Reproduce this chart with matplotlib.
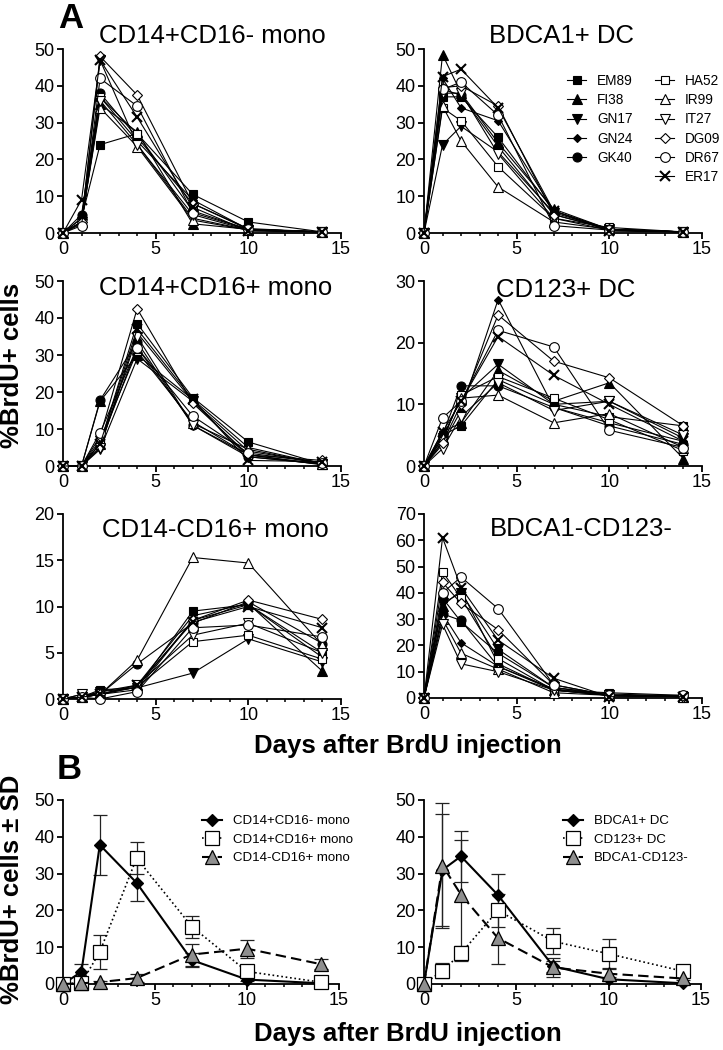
import matplotlib
matplotlib.use("Agg")
import matplotlib.pyplot as plt
from matplotlib.ticker import MultipleLocator
import numpy as np

plt.rcParams['font.family'] = ['Liberation Sans', 'DejaVu Sans']

days = [0, 1, 2, 4, 7, 10, 14]
donors = ["EM89", "FI38", "GN17", "GN24", "GK40", "HA52", "IR99", "IT27", "DG09", "DR67", "ER17"]

# Panel A data: rows follow donor order, columns follow days
cd14p_cd16m = [
    [0, 4, 24, 27, 10.5, 3, 0.3],
    [0, 3, 35, 27.5, 2.5, 1, 0.3],
    [0, 3, 47, 24, 4, 0.8, 0.3],
    [0, 4, 37, 25, 9, 1, 0.3],
    [0, 5, 38, 26, 8, 1.2, 0.3],
    [0, 3, 37, 27, 6, 1, 0.3],
    [0, 3, 34, 23.5, 3.5, 0.8, 0.3],
    [0, 2.5, 36, 24, 5, 0.8, 0.3],
    [0, 3, 48, 37.5, 8, 1, 0.3],
    [0, 2, 42, 34.5, 5.5, 1, 0.3],
    [0, 9, 47, 31.5, 7, 0.5, 0.3],
]
bdca1_dc = [
    [0, 37, 37, 26, 6, 1, 0.3],
    [0, 48.5, 38, 24.5, 6.5, 1, 0.3],
    [0, 24, 29, 22, 5.5, 1, 0.3],
    [0, 42, 34, 30.5, 6, 1, 0.3],
    [0, 39, 37.5, 23.5, 5, 1, 0.3],
    [0, 34, 30.5, 18, 4, 1.5, 0.3],
    [0, 34.5, 25, 12.5, 3, 1, 0.3],
    [0, 38, 38, 21.5, 4, 0.8, 0.3],
    [0, 39.5, 40, 34.5, 5, 1, 0.3],
    [0, 39, 41, 32, 2, 0.8, 0.3],
    [0, 42.5, 44.5, 34, 6, 0.5, 0.3],
]
cd14p_cd16p = [
    [0, 0, 6, 38.5, 18.5, 6.5, 0.5],
    [0, 0, 17.5, 30, 18, 5, 0.5],
    [0, 0, 4.5, 29, 17.5, 2.5, 0.5],
    [0, 0, 5, 36, 17.5, 4, 0.8],
    [0, 0, 17.8, 33.5, 11, 2.5, 0.5],
    [0, 0, 7, 31, 12, 3, 0.3],
    [0, 0, 6, 32, 11.5, 4.5, 0.5],
    [0, 0, 5, 35, 11, 3, 0.5],
    [0, 0, 8, 42.5, 17, 3, 1.5],
    [0, 0, 9, 32, 13.5, 3.5, 0.8],
    [0, 0, 6, 37, 18, 1.5, 1.2],
]
cd123_dc = [
    [0, 5, 6.5, 14, 10, 8, 6.5],
    [0, 5.5, 7, 15.5, 10.5, 13.5, 1.2],
    [0, 4.5, 11, 16.5, 10, 10.5, 4.5],
    [0, 3.5, 9, 27, 9.5, 7, 4],
    [0, 5, 13, 13, 9.5, 6.5, 3.5],
    [0, 4, 11.5, 14.5, 11, 7.5, 2.5],
    [0, 4.5, 11, 11.5, 7, 8.5, 3],
    [0, 2.8, 8, 13.5, 9, 10.5, 5],
    [0, 3.8, 10, 24.5, 17, 14.3, 6.5],
    [0, 7.8, 10.5, 22, 19.3, 5.8, 3],
    [0, 5.5, 10.5, 21, 14.7, 10, 4],
]
cd14m_cd16p = [
    [0, 0.2, 1, 1.2, 9.5, 10.2, 5],
    [0, 0.2, 0.8, 1.5, 9, 10.3, 3],
    [0, 0.2, 0.8, 1.2, 2.8, 6.5, 4],
    [0, 0.2, 0.5, 1.3, 8.5, 10.2, 4.5],
    [0, 0.2, 0.5, 3.8, 8.2, 10.5, 6],
    [0, 0.5, 0.5, 1.3, 6.2, 6.9, 4.3],
    [0, 0.2, 0.5, 4.2, 15.3, 14.7, 5.8],
    [0, 0.5, 0.5, 1.5, 6.9, 8.2, 5],
    [0, 0.2, 0.5, 1.0, 8.5, 10.7, 8.6],
    [0, 0.2, 0, 0.8, 7.7, 8.0, 6.7],
    [0, 0.2, 0.5, 1.5, 8.3, 10.0, 7.7],
]
bdca1m_cd123m = [
    [0, 38, 29, 17, 4, 1.5, 0.8],
    [0, 35, 41, 13, 3, 1, 0.5],
    [0, 36, 40, 18.5, 4, 1, 0.5],
    [0, 32, 21, 12, 3, 1, 0.5],
    [0, 32, 29.5, 12, 3.5, 1, 0.5],
    [0, 48, 38, 15, 3, 2, 1],
    [0, 30, 17, 11, 2, 1, 0.5],
    [0, 28, 13, 10, 3, 1, 0.5],
    [0, 44, 36, 26, 5, 1, 0.5],
    [0, 40, 46, 34, 5, 1, 1],
    [0, 61, 42, 22, 7.5, 0.5, 0.5],
]

# Panel B: means and SDs
mono_labels = ["CD14+CD16- mono", "CD14+CD16+ mono", "CD14-CD16+ mono"]
mono_mean = [
    [0, 3.3, 37.8, 27.5, 6.5, 1.2, 0.2],
    [0, 0.3, 8.7, 34.2, 15.6, 3.4, 0.5],
    [0, 0.2, 0.5, 1.6, 8.0, 9.6, 5.4],
]
mono_sd = [
    [0, 2.2, 8.2, 5.0, 2.0, 0.5, 0.1],
    [0, 0.2, 4.6, 4.4, 3.0, 1.5, 0.3],
    [0, 0.1, 0.3, 1.0, 3.0, 2.4, 1.4],
]
dc_labels = ["BDCA1+ DC", "CD123+ DC", "BDCA1-CD123-"]
dc_mean = [
    [0, 31.0, 34.7, 24.2, 4.8, 1.3, 0.2],
    [0, 3.6, 8.3, 20.0, 11.6, 8.2, 3.5],
    [0, 32.2, 24.3, 12.5, 4.5, 2.8, 1.5],
]
dc_sd = [
    [0, 15.3, 6.9, 5.8, 1.5, 0.5, 0.1],
    [0, 2.0, 2.0, 4.5, 3.5, 4.0, 1.6],
    [0, 17.0, 14.8, 7.0, 2.5, 1.5, 0.5],
]

W, H = 723, 1050
fig = plt.figure(figsize=(W / 100, H / 100), dpi=100)


def px_axes(x0, x1, ytop, ybot):
    return fig.add_axes([x0 / W, 1 - ybot / H, (x1 - x0) / W, (ybot - ytop) / H])


def style(ax, ymax, ystep):
    ax.set_xlim(0, 15)
    ax.set_ylim(0, ymax)
    for s in ["top", "right"]:
        ax.spines[s].set_visible(False)
    for s in ["left", "bottom"]:
        ax.spines[s].set_linewidth(1.3)
    ax.xaxis.set_major_locator(MultipleLocator(5))
    ax.xaxis.set_minor_locator(MultipleLocator(1))
    ax.yaxis.set_major_locator(MultipleLocator(ystep))
    ax.tick_params(axis="both", which="major", direction="out", length=4.5, width=1.3,
                   labelsize=13, pad=1.5)
    ax.tick_params(axis="x", which="minor", direction="out", length=2.5, width=1.1)
    ax.tick_params(axis="y", which="minor", length=0)
    ax.patch.set_alpha(0)


mstyle = [
    dict(marker="s", mfc="black", ms=6),
    dict(marker="^", mfc="black", ms=6.5),
    dict(marker="v", mfc="black", ms=6.5),
    dict(marker="D", mfc="black", ms=4.5),
    dict(marker="o", mfc="black", ms=6.5),
    dict(marker="s", mfc="white", ms=6),
    dict(marker="^", mfc="white", ms=6.5),
    dict(marker="v", mfc="white", ms=6.5),
    dict(marker="D", mfc="white", ms=5.5),
    dict(marker="o", mfc="white", ms=7),
    dict(marker="x", mfc="black", ms=6.5),
]


def draw_panel(ax, data, title, tx, ty):
    handles = []
    for i, name in enumerate(donors):
        st = dict(mstyle[i])
        mew = 1.5 if st["marker"] == "x" else 0.8
        h, = ax.plot(days, data[i], color="black", lw=0.8, mec="black", mew=mew,
                     clip_on=False, zorder=3, label=name, **st)
        handles.append(h)
    ax.text(tx, ty, title, transform=ax.transAxes, ha="center", va="baseline",
            fontsize=18.5)
    return handles


a1 = px_axes(63, 341, 49, 233)
a2 = px_axes(424, 702, 49, 233)
a3 = px_axes(63, 341, 281, 466)
a4 = px_axes(424, 702, 281, 466)
a5 = px_axes(63, 341, 514, 699)
a6 = px_axes(424, 702, 514, 698)

style(a1, 50, 10); style(a2, 50, 10); style(a3, 50, 10)
style(a4, 30, 10); style(a5, 20, 5); style(a6, 70, 10)

draw_panel(a1, cd14p_cd16m, "CD14+CD16- mono", 0.536, 1.03)
hs = draw_panel(a2, bdca1_dc, "BDCA1+ DC", 0.496, 1.03)
draw_panel(a3, cd14p_cd16p, "CD14+CD16+ mono", 0.55, 0.922)
draw_panel(a4, cd123_dc, "CD123+ DC", 0.511, 0.914)
draw_panel(a5, cd14m_cd16p, "CD14-CD16+ mono", 0.547, 0.876)
draw_panel(a6, bdca1m_cd123m, "BDCA1-CD123-", 0.565, 0.881)

leg_kw = dict(frameon=False, fontsize=9.8, handlelength=1.4, handletextpad=0.8,
              labelspacing=0.38, borderpad=0, borderaxespad=0, loc="upper left",
              bbox_transform=fig.transFigure, numpoints=1)
l1 = a2.legend(hs[:5], donors[:5], bbox_to_anchor=(567 / W, 1 - 74 / H), **leg_kw)
a2.add_artist(l1)
a2.legend(hs[5:], donors[5:], bbox_to_anchor=(655 / W, 1 - 74 / H), **leg_kw)

# Panel B
b1 = px_axes(63, 339, 800, 984)
b2 = px_axes(424, 701, 800, 984)
style(b1, 50, 10); style(b2, 50, 10)

bstyles = [
    dict(marker="D", mfc="black", ms=6.5, ls="-", lw=1.5),
    dict(marker="s", mfc="white", ms=10, ls=":", lw=1.2),
    dict(marker="^", mfc="#8f8f8f", ms=10.5, ls=(0, (5, 2.5)), lw=1.5),
]


def draw_b(ax, means, sds, labels, lx):
    hs = []
    for i in range(3):
        st = bstyles[i]
        ax.errorbar(days, means[i], yerr=sds[i], fmt="none", ecolor="#222222",
                    elinewidth=0.9, capsize=5, capthick=0.9, clip_on=False, zorder=2)
        h, = ax.plot(days, means[i], color="black", mec="black", mew=0.9,
                     clip_on=False, zorder=3, label=labels[i], **st)
        hs.append(h)
    ax.legend(hs, labels, frameon=False, fontsize=9.5, handlelength=1.5,
              handletextpad=0.85, labelspacing=0.48, borderpad=0, borderaxespad=0,
              loc="upper left", bbox_to_anchor=(lx / W, 1 - 815 / H),
              bbox_transform=fig.transFigure, numpoints=1)


draw_b(b1, mono_mean, mono_sd, mono_labels, 202)
draw_b(b2, dc_mean, dc_sd, dc_labels, 563)

# Figure-level text
fig.text(58 / W, 1 - 28 / H, "A", fontsize=25, fontweight="bold", ha="left", va="baseline")
fig.text(57 / W, 1 - 779 / H, "B", fontsize=25, fontweight="bold", ha="left", va="baseline")
fig.text(408 / W, 1 - 753 / H, "Days after BrdU injection", fontsize=18.5,
         fontweight="bold", ha="center", va="baseline")
fig.text(408 / W, 1 - 1041 / H, "Days after BrdU injection", fontsize=18.5,
         fontweight="bold", ha="center", va="baseline")
fig.text(12 / W, 1 - 365 / H, "%BrdU+ cells", fontsize=18.5, fontweight="bold",
         rotation=90, ha="center", va="center")
fig.text(12 / W, 1 - 889 / H, "%BrdU+ cells \u00b1 SD", fontsize=18.5, fontweight="bold",
         rotation=90, ha="center", va="center")

fig.savefig("out.png", dpi=100, facecolor="white")
